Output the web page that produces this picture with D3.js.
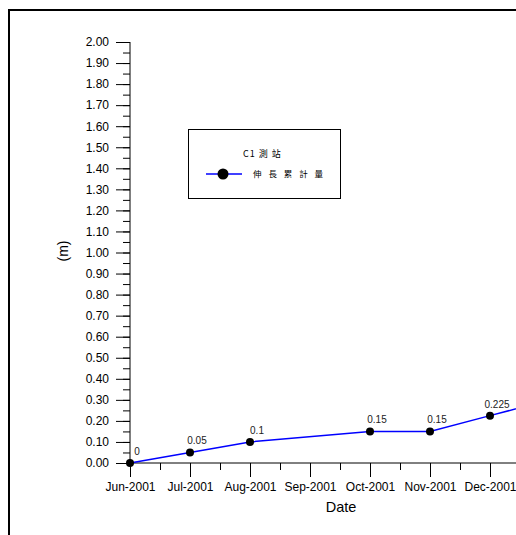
<!DOCTYPE html>
<html lang="zh-Hant">
<head>
    <meta charset="UTF-8">
    <title>C1</title>
    <script src="https://d3js.org/d3.v7.min.js"></script>
    <style>
        body { margin: 0; background: #fff; }
        svg { display: block; font-family: "Liberation Sans", Arial, sans-serif; }
    </style>
</head>
<body>
<div id="chart"></div>
<script>
    // data
    const months = ["Jun-2001", "Jul-2001", "Aug-2001", "Sep-2001", "Oct-2001", "Nov-2001", "Dec-2001"];
    const pointMonth = [0, 1, 2, 4, 5, 6, 7];
    const pointValue = [0, 0.05, 0.1, 0.15, 0.15, 0.225, 0.3];
    const pointLabel = ["0", "0.05", "0.1", "0.15", "0.15", "0.225", ""];
    const yTicks = d3.range(0, 21).map(d => d / 10);
    const seriesName = "伸 長 累 計 量";
    const legendTitle = "C1 測 站";

    const width = 516, height = 535;
    const svg = d3.select("#chart").append("svg")
        .attr("width", width).attr("height", height);

    // outer frame (only top and left edges are visible)
    svg.append("line").attr("x1", 8).attr("x2", width).attr("y1", 10).attr("y2", 10)
        .attr("stroke", "#000").attr("stroke-width", 2);
    svg.append("line").attr("x1", 9).attr("x2", 9).attr("y1", 10).attr("y2", height)
        .attr("stroke", "#000").attr("stroke-width", 2);

    const x = d3.scaleLinear().domain([0, 6]).range([130, 490]);
    const y = d3.scaleLinear().domain([0, 2]).range([463, 42]);

    // y axis: major + minor ticks on the left
    const yMinor = svg.append("g").attr("transform", "translate(130,0)")
        .call(d3.axisLeft(y).tickValues(d3.range(0, 40).map(d => d / 20 + 0.05)).tickSize(7).tickFormat(""));
    const yMajor = svg.append("g").attr("transform", "translate(130,0)")
        .call(d3.axisLeft(y).tickValues(yTicks).tickSize(14).tickPadding(7).tickFormat(d3.format(".2f")));
    [yMinor, yMajor].forEach(g => {
        g.select(".domain").remove();
        g.selectAll("line").attr("stroke", "#000");
        g.selectAll("text").attr("font-size", 12).attr("fill", "#000")
            .attr("font-family", "Liberation Sans, Arial, sans-serif");
    });
    svg.append("line").attr("x1", 130).attr("x2", 130).attr("y1", 42).attr("y2", 463).attr("stroke", "#000");

    // x axis
    const xMinor = svg.append("g").attr("transform", "translate(0,463)")
        .call(d3.axisBottom(x).tickValues(d3.range(0, 7).map(d => d + 0.5)).tickSize(7).tickFormat(""));
    const xMajor = svg.append("g").attr("transform", "translate(0,463)")
        .call(d3.axisBottom(x).tickValues(d3.range(0, 8)).tickSize(14).tickPadding(5).tickFormat(i => months[i] || ""));
    [xMinor, xMajor].forEach(g => {
        g.select(".domain").remove();
        g.selectAll("line").attr("stroke", "#000");
        g.selectAll("text").attr("font-size", 12).attr("fill", "#000")
            .attr("font-family", "Liberation Sans, Arial, sans-serif");
    });
    svg.append("line").attr("x1", 130).attr("x2", width).attr("y1", 463).attr("y2", 463).attr("stroke", "#000");

    // axis titles
    svg.append("text").attr("x", 341).attr("y", 512).attr("text-anchor", "middle")
        .attr("font-size", 14.5).text("Date");
    svg.append("text").attr("transform", "translate(68,251) rotate(-90)")
        .attr("text-anchor", "middle").attr("font-size", 14).text("(m)");

    // series
    const pts = pointMonth.map((m, i) => ({ m: m, v: pointValue[i], label: pointLabel[i] }));
    svg.append("path").datum(pts)
        .attr("fill", "none").attr("stroke", "#0000ff").attr("stroke-width", 1.5)
        .attr("d", d3.line().x(d => x(d.m)).y(d => y(d.v)));
    svg.selectAll("circle.pt").data(pts).enter().append("circle")
        .attr("class", "pt").attr("cx", d => x(d.m)).attr("cy", d => y(d.v)).attr("r", 4)
        .attr("fill", "#000");
    svg.selectAll("text.lbl").data(pts.filter(d => d.label)).enter().append("text")
        .attr("class", "lbl").attr("x", d => x(d.m) + 7).attr("y", d => y(d.v) - 8)
        .attr("text-anchor", "middle").attr("font-size", 10).attr("fill", "#222")
        .text(d => d.label);

    // legend
    const lg = svg.append("g");
    lg.append("rect").attr("x", 188.5).attr("y", 129.5).attr("width", 152).attr("height", 69)
        .attr("fill", "#fff").attr("stroke", "#000");
    lg.append("text").attr("x", 243).attr("y", 157)
        .attr("font-size", 9).attr("letter-spacing", 1)
        .attr("font-family", "Noto Sans CJK TC, sans-serif").text(legendTitle);
    lg.append("line").attr("x1", 206).attr("x2", 242).attr("y1", 174).attr("y2", 174)
        .attr("stroke", "#0000ff").attr("stroke-width", 1.5);
    lg.append("circle").attr("cx", 223).attr("cy", 174).attr("r", 5.5).attr("fill", "#000");
    lg.append("text").attr("x", 253).attr("y", 177).attr("font-size", 8.5).attr("letter-spacing", 2.5)
        .attr("font-family", "Noto Sans CJK TC, sans-serif").text(seriesName);
</script>
</body>
</html>
